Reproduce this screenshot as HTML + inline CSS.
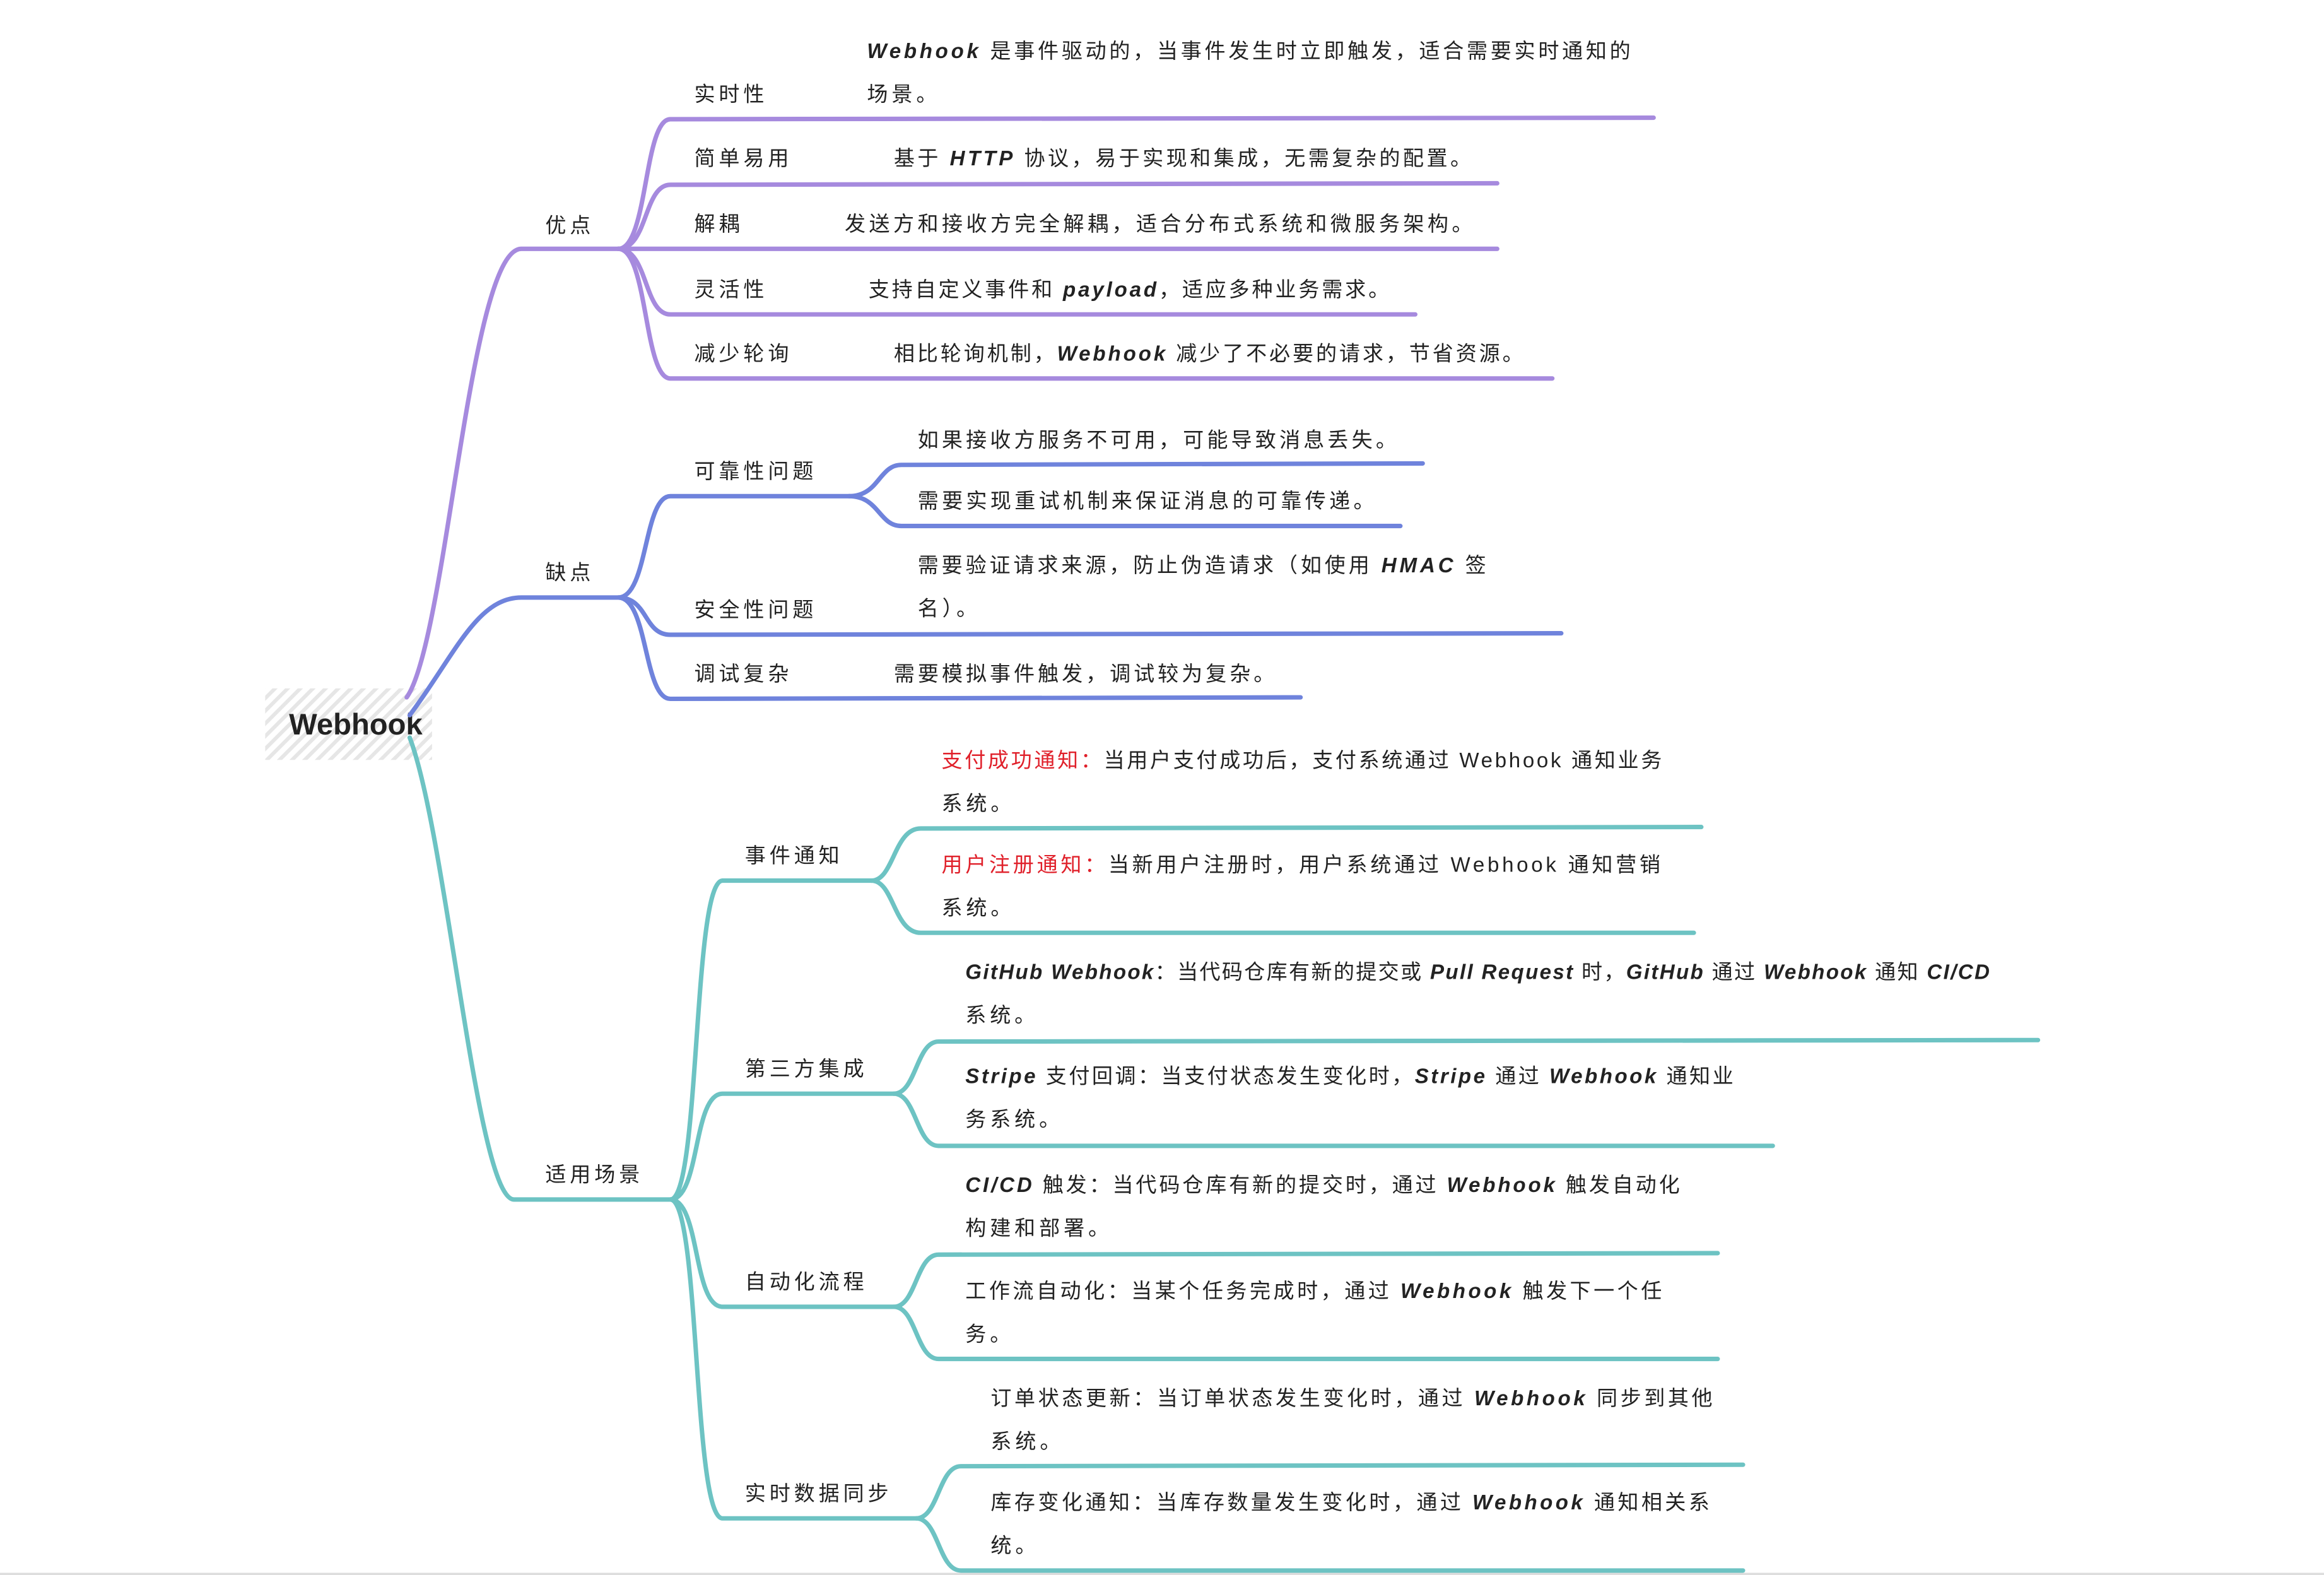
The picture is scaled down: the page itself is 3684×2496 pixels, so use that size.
<!DOCTYPE html>
<html><head><meta charset="utf-8"><style>
html,body{margin:0;padding:0;background:#fff;}
svg{display:block;}
text{font-family:"Liberation Sans","Noto Sans CJK SC",sans-serif;font-size:14px;fill:#222;letter-spacing:2.5px;}
.r{font-weight:bold;font-size:20px;letter-spacing:0;}
.b{font-weight:bold;font-style:italic;}
</style></head><body>
<svg width="3684" height="2496" viewBox="0 0 1560 1057" preserveAspectRatio="none" xmlns="http://www.w3.org/2000/svg">
<defs>
<pattern id="h" width="6" height="6" patternUnits="userSpaceOnUse" patternTransform="rotate(45)">
<rect width="6" height="6" fill="#fff"/><rect width="2.5" height="6" fill="#e6e6e6"/></pattern>
</defs>
<rect x="178" y="462" width="112" height="48" fill="url(#h)"/>
<text class="r" x="194" y="493">Webhook</text>
<line x1="0" y1="1057" x2="1560" y2="1057" stroke="#ddd" stroke-width="3"/>

<!-- purple -->
<g fill="none" stroke="#a68ade" stroke-width="3" stroke-linecap="round">
<path d="M273,468 C300,430 315,167 350,167 L415,167"/>
<path d="M415,167 C435,167 432,80 450,80 L1110,79"/>
<path d="M415,167 C435,167 432,124 450,124 L1005,123"/>
<path d="M415,167 L1005,167"/>
<path d="M415,167 C435,167 432,211 450,211 L950,211"/>
<path d="M415,167 C435,167 432,254 450,254 L1042,254"/>
</g>
<!-- blue -->
<g fill="none" stroke="#6f83dc" stroke-width="3" stroke-linecap="round">
<path d="M275,480 C305,440 320,401 350,401 L415,401"/>
<path d="M415,401 C435,401 432,333 450,333 L570,333"/>
<path d="M570,333 C590,333 590,312 605,312 L955,311"/>
<path d="M570,333 C590,333 590,353 605,353 L940,353"/>
<path d="M415,401 C435,401 432,426 450,426 L1048,425"/>
<path d="M415,401 C435,401 432,469 450,469 L873,468"/>
</g>
<!-- teal -->
<g fill="none" stroke="#6dc3c3" stroke-width="3" stroke-linecap="round">
<path d="M275,495 C300,560 320,805 345,805 L450,805"/>
<path d="M450,805 C470,805 465,591 485,591 L585,591"/>
<path d="M585,591 C600,591 600,556 618,556 L1142,555"/>
<path d="M585,591 C600,591 600,626 618,626 L1137,626"/>
<path d="M450,805 C470,805 465,734 485,734 L600,734"/>
<path d="M600,734 C615,734 615,699 630,699 L1368,698"/>
<path d="M600,734 C615,734 615,769 630,769 L1190,769"/>
<path d="M450,805 C470,805 465,877 485,877 L600,877"/>
<path d="M600,877 C615,877 615,842 630,842 L1153,841"/>
<path d="M600,877 C615,877 615,912 630,912 L1153,912"/>
<path d="M450,805 C470,805 465,1019 485,1019 L615,1019"/>
<path d="M615,1019 C630,1019 630,984 645,984 L1170,983"/>
<path d="M615,1019 C630,1019 630,1054 645,1054 L1170,1054"/>
</g>

<!-- level 1 labels -->
<text x="366" y="156">优点</text>
<text x="366" y="389">缺点</text>
<text x="366" y="793">适用场景</text>

<!-- 优点 -->
<text x="466" y="68">实时性</text>
<text x="582" y="39" textLength="515"><tspan class="b">Webhook</tspan> 是事件驱动的，当事件发生时立即触发，适合需要实时通知的</text>
<text x="582" y="68">场景。</text>
<text x="466" y="111">简单易用</text>
<text x="600" y="111" textLength="390">基于 <tspan class="b">HTTP</tspan> 协议，易于实现和集成，无需复杂的配置。</text>
<text x="466" y="155">解耦</text>
<text x="567" y="155" textLength="424">发送方和接收方完全解耦，适合分布式系统和微服务架构。</text>
<text x="466" y="199">灵活性</text>
<text x="583" y="199" textLength="352">支持自定义事件和 <tspan class="b">payload</tspan>，适应多种业务需求。</text>
<text x="466" y="242">减少轮询</text>
<text x="600" y="242" textLength="425">相比轮询机制，<tspan class="b">Webhook</tspan> 减少了不必要的请求，节省资源。</text>

<!-- 缺点 -->
<text x="466" y="321">可靠性问题</text>
<text x="616" y="300" textLength="324">如果接收方服务不可用，可能导致消息丢失。</text>
<text x="616" y="341" textLength="309">需要实现重试机制来保证消息的可靠传递。</text>
<text x="466" y="414">安全性问题</text>
<text x="616" y="384" textLength="384">需要验证请求来源，防止伪造请求（如使用 <tspan class="b">HMAC</tspan> 签</text>
<text x="616" y="413">名）。</text>
<text x="466" y="457">调试复杂</text>
<text x="600" y="457" textLength="258">需要模拟事件触发，调试较为复杂。</text>

<!-- 适用场景 -->
<text x="500" y="579">事件通知</text>
<text x="632" y="515" textLength="486"><tspan fill="#e0202a" style="fill:#e0202a">支付成功通知：</tspan>当用户支付成功后，支付系统通过 Webhook 通知业务</text>
<text x="632" y="544">系统。</text>
<text x="632" y="585" textLength="485"><tspan style="fill:#e0202a">用户注册通知：</tspan>当新用户注册时，用户系统通过 Webhook 通知营销</text>
<text x="632" y="614">系统。</text>

<text x="500" y="722">第三方集成</text>
<text x="648" y="657" textLength="690"><tspan class="b">GitHub Webhook</tspan>：当代码仓库有新的提交或 <tspan class="b">Pull Request</tspan> 时，<tspan class="b">GitHub</tspan> 通过 <tspan class="b">Webhook</tspan> 通知 <tspan class="b">CI/CD</tspan></text>
<text x="648" y="686">系统。</text>
<text x="648" y="727" textLength="518"><tspan class="b">Stripe</tspan> 支付回调：当支付状态发生变化时，<tspan class="b">Stripe</tspan> 通过 <tspan class="b">Webhook</tspan> 通知业</text>
<text x="648" y="756">务系统。</text>

<text x="500" y="865">自动化流程</text>
<text x="648" y="800" textLength="482"><tspan class="b">CI/CD</tspan> 触发：当代码仓库有新的提交时，通过 <tspan class="b">Webhook</tspan> 触发自动化</text>
<text x="648" y="829">构建和部署。</text>
<text x="648" y="871" textLength="470">工作流自动化：当某个任务完成时，通过 <tspan class="b">Webhook</tspan> 触发下一个任</text>
<text x="648" y="900">务。</text>

<text x="500" y="1007">实时数据同步</text>
<text x="665" y="943" textLength="487">订单状态更新：当订单状态发生变化时，通过 <tspan class="b">Webhook</tspan> 同步到其他</text>
<text x="665" y="972">系统。</text>
<text x="665" y="1013" textLength="485">库存变化通知：当库存数量发生变化时，通过 <tspan class="b">Webhook</tspan> 通知相关系</text>
<text x="665" y="1042">统。</text>
</svg>
</body></html>
